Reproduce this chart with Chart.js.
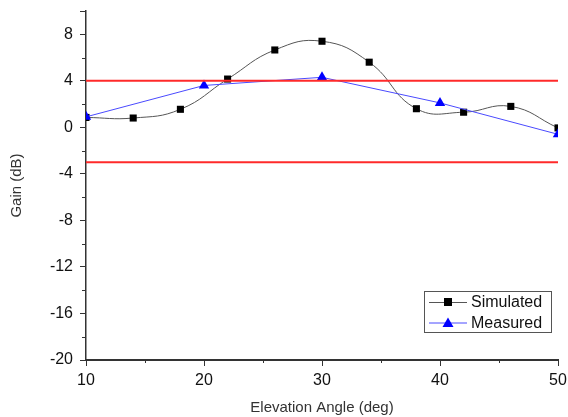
<!DOCTYPE html>
<html>
<head>
<meta charset="utf-8">
<script src="https://cdn.jsdelivr.net/npm/chart.js@4/dist/chart.umd.min.js"></script>
<style>
  html, body { margin: 0; padding: 0; background: #fff; }
  #wrap { width: 568px; height: 417px; }
</style>
</head>
<body>
<div id="wrap"><canvas id="gainChart" width="568" height="417"></canvas></div>
<script>
// data
const simAngles = [10, 14, 18, 22, 26, 30, 34, 38, 42, 46, 50];
const simGain = [0.85, 0.8, 1.55, 4.15, 6.65, 7.4, 5.6, 1.6, 1.3, 1.8, -0.05];
const measAngles = [10, 20, 30, 40, 50];
const measGain = [0.9, 3.6, 4.3, 2.1, -0.6];
const limitUpper = 4;
const limitLower = -3;
const xRange = [10, 50];
const yRange = [-20, 10];
const legendOrder = ["Simulated", "Measured"];

const FONT = "'Liberation Sans', Arial, sans-serif";
const toPoints = (xs, ys) => xs.map((x, i) => ({ x, y: ys[i] }));

// minor ticks halfway between major ones, drawn outward
const minorTicks = {
  id: "minorTicks",
  afterDraw(chart) {
    const { ctx, chartArea } = chart;
    const xs = chart.scales.x;
    const ys = chart.scales.y;
    ctx.save();
    ctx.strokeStyle = "#333";
    ctx.lineWidth = 1;
    ctx.beginPath();
    for (let v = xRange[0] + 5; v < xRange[1]; v += 10) {
      const px = Math.round(xs.getPixelForValue(v)) + 0.5;
      ctx.moveTo(px, chartArea.bottom);
      ctx.lineTo(px, chartArea.bottom + 3);
    }
    for (let v = yRange[0] + 2; v <= yRange[1]; v += 4) {
      const py = Math.round(ys.getPixelForValue(v)) + 0.5;
      ctx.moveTo(chartArea.left, py);
      ctx.lineTo(chartArea.left - 4, py);
    }
    ctx.stroke();
    ctx.restore();
  }
};

// legend box inside the plot, bottom right
const boxLegend = {
  id: "boxLegend",
  afterDraw(chart) {
    const { ctx } = chart;
    const items = legendOrder.map((name) => chart.data.datasets.find((d) => d.label === name));
    const x0 = 424, y0 = 291, w = 127, rowH = 20.5;
    ctx.save();
    ctx.fillStyle = "#fff";
    ctx.fillRect(x0, y0, w, rowH * items.length);
    ctx.strokeStyle = "#555";
    ctx.lineWidth = 1;
    ctx.strokeRect(x0 + 0.5, y0 + 0.5, w, rowH * items.length);
    items.forEach((d, i) => {
      const cy = y0 + 11 + i * rowH;
      ctx.strokeStyle = d.borderColor;
      ctx.lineWidth = 1;
      ctx.beginPath();
      ctx.moveTo(x0 + 5, cy + 0.5);
      ctx.lineTo(x0 + 43, cy + 0.5);
      ctx.stroke();
      ctx.fillStyle = d.pointBackgroundColor;
      ctx.beginPath();
      if (d.pointStyle === "triangle") {
        ctx.moveTo(x0 + 24, cy - 5);
        ctx.lineTo(x0 + 29.5, cy + 4.5);
        ctx.lineTo(x0 + 18.5, cy + 4.5);
        ctx.closePath();
      } else {
        ctx.rect(x0 + 20, cy - 4, 8, 8);
      }
      ctx.fill();
      ctx.fillStyle = "#111";
      ctx.font = "16px " + FONT;
      ctx.textBaseline = "middle";
      ctx.fillText(d.label, x0 + 47, cy + 1);
    });
    ctx.restore();
  }
};

new Chart(document.getElementById("gainChart"), {
  type: "scatter",
  data: {
    datasets: [
      {
        label: "upper",
        data: toPoints(xRange, [limitUpper, limitUpper]),
        showLine: true,
        borderColor: "#ff2a2a",
        borderWidth: 2,
        pointRadius: 0
      },
      {
        label: "lower",
        data: toPoints(xRange, [limitLower, limitLower]),
        showLine: true,
        borderColor: "#ff2a2a",
        borderWidth: 2,
        pointRadius: 0
      },
      {
        label: "Measured",
        data: toPoints(measAngles, measGain),
        showLine: true,
        borderColor: "#4a4aff",
        borderWidth: 1,
        pointStyle: "triangle",
        pointRadius: 6,
        pointBackgroundColor: "#0000ff",
        pointBorderColor: "#0000ff",
        pointBorderWidth: 0
      },
      {
        label: "Simulated",
        data: toPoints(simAngles, simGain),
        showLine: true,
        tension: 0.45,
        borderColor: "#555555",
        borderWidth: 1,
        pointStyle: "rect",
        pointRadius: 5,
        pointBackgroundColor: "#000",
        pointBorderColor: "#000",
        pointBorderWidth: 0
      }
    ]
  },
  options: {
    responsive: false,
    animation: false,
    layout: { padding: { top: 11, right: 10, left: 0, bottom: 0 } },
    plugins: {
      legend: { display: false },
      tooltip: { enabled: false }
    },
    scales: {
      x: {
        type: "linear",
        min: xRange[0],
        max: xRange[1],
        afterFit(s) {
          s.height = 57;
          s.paddingLeft = 0;
          s.paddingRight = 0;
        },
        border: { display: true, color: "#333", width: 2 },
        grid: { drawOnChartArea: false, tickLength: 6, color: "#333" },
        ticks: {
          stepSize: 10,
          color: "#111",
          padding: 5,
          font: { family: FONT, size: 16 }
        },
        title: {
          display: true,
          text: "Elevation Angle (deg)",
          color: "#333",
          padding: { top: 2, bottom: 0 },
          font: { family: FONT, size: 15 }
        }
      },
      y: {
        type: "linear",
        min: yRange[0],
        max: yRange[1],
        afterFit(s) {
          s.width = 86;
          s.paddingTop = 0;
          s.paddingBottom = 0;
        },
        border: { display: true, color: "#333", width: 1.5 },
        grid: { drawOnChartArea: false, tickLength: 6, color: "#333" },
        ticks: {
          stepSize: 4,
          color: "#111",
          padding: 7,
          font: { family: FONT, size: 16 },
          callback: (v) => (v % 4 === 0 ? v : "")
        },
        title: {
          display: true,
          text: "Gain (dB)",
          color: "#333",
          padding: { top: 8, bottom: 0 },
          font: { family: FONT, size: 15 }
        }
      }
    }
  },
  plugins: [minorTicks, boxLegend]
});
</script>
</body>
</html>
